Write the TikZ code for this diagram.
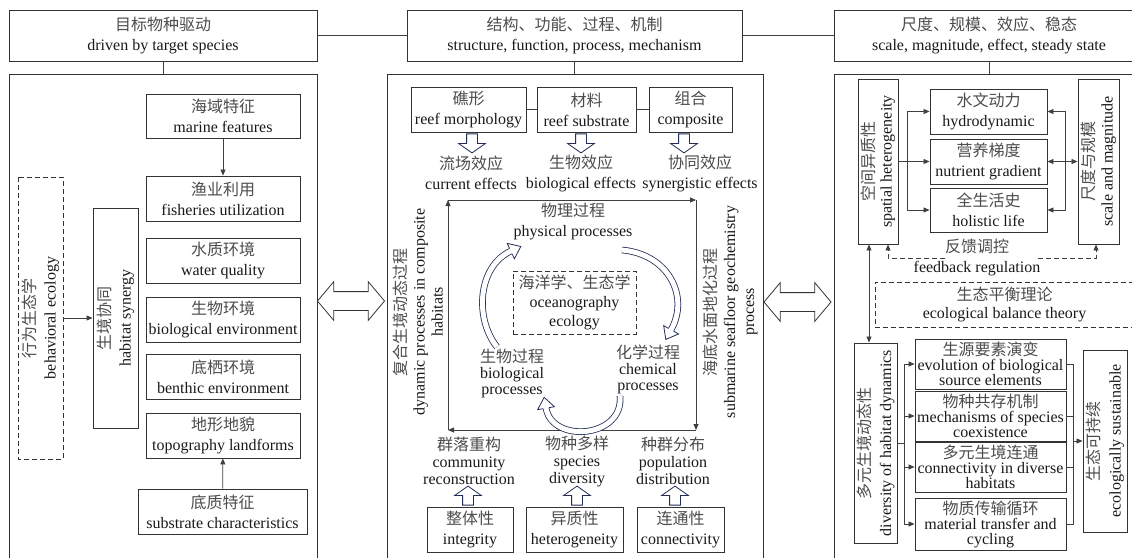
\documentclass[tikz,border=0pt]{standalone}
\usepackage{fontspec}
\setmainfont{Liberation Serif}
\newfontfamily\zhfont{Noto Sans CJK SC}
\usetikzlibrary{positioning, arrows.meta, shapes.arrows, decorations.markings}
\definecolor{navy}{RGB}{35,45,85}
\newcommand\zh[1]{{\zhfont\color{black!70}#1}}

\begin{document}
\begin{tikzpicture}[x=1pt, y=-1pt, font=\fontsize{16}{20}\selectfont, text=black!90,
    >={Triangle[length=6pt,width=5pt]},
    box/.style={draw=black!80, line width=0.9pt, align=center, inner sep=0pt},
    dbox/.style={box, dash pattern=on 5pt off 3pt},
    panel/.style={draw=black!80, line width=0.9pt, inner sep=0pt, anchor=north},
    link/.style={draw=black!75, line width=0.8pt},
    dlink/.style={link, dash pattern=on 5pt off 3pt},
    label/.style={align=center, inner sep=0pt},
    tightfont/.style={font=\fontsize{16}{16}\selectfont},
    threefont/.style={font=\fontsize{16}{15}\selectfont},
    blockarr/.style={single arrow, draw=navy, fill=white, line width=0.8pt, inner xsep=0pt, inner ysep=5pt,
        minimum height=19pt, single arrow head extend=8pt, single arrow tip angle=110},
    bigarr/.style={double arrow, draw=black!80, fill=white, line width=0.8pt, inner xsep=0pt, inner ysep=9pt,
        minimum height=67pt, double arrow head extend=10pt, double arrow tip angle=100},
    cyc/.style={navy, line width=0.8pt, double=white, double distance=5pt, postaction={decorate},
        decoration={markings, mark=at position 0.998 with {\draw[navy, fill=white, line width=0.8pt, solid] (0,2.9) -- (0,8.5) -- (11,0) -- (0,-8.5) -- (0,-2.9);}}}]

\useasboundingbox (0,0) rectangle (1132,557);
\clip (0,0) rectangle (1132,557);

% headers
\node[box, minimum width=308, minimum height=51] (hdL) at (163,35.5) {\zh{目标物种驱动}\\driven by target species};
\node[box, minimum width=335, minimum height=51] (hdM) at (574.5,35.5) {\zh{结构、功能、过程、机制}\\structure, function, process, mechanism};
\node[box, minimum width=310, minimum height=51] (hdR) at (989,35.5) {\zh{尺度、规模、效应、稳态}\\scale, magnitude, effect, steady state};
\draw[link] (hdL) -- (hdM);
\draw[link] (hdM) -- (hdR);

\node[panel, minimum width=308, minimum height=500] (pnL) at (163,74) {};
\node[panel, minimum width=376, minimum height=500] (pnM) at (575,74) {};
\node[panel, minimum width=310, minimum height=500] (pnR) at (989,74) {};
\draw[link] (hdL) -- (pnL);
\draw[link] (hdM) -- (pnM);
\draw[link] (hdR) -- (pnR);

\node[bigarr] (dblL) at (351,301) {};
\node[bigarr] (dblR) at (797.5,302) {};

% left panel
\node[box, minimum width=154, minimum height=44] (marine) at (223,116) {\zh{海域特征}\\marine features};
\node[box, minimum width=154, minimum height=45] (fishery) at (223,198.5) {\zh{渔业利用}\\fisheries utilization};
\node[box, minimum width=154, minimum height=45] (water) at (223,260.5) {\zh{水质环境}\\water quality};
\node[box, minimum width=154, minimum height=45] (bioenv) at (223,319.5) {\zh{生物环境}\\biological environment};
\node[box, minimum width=154, minimum height=45] (benthic) at (223,376.5) {\zh{底栖环境}\\benthic environment};
\node[box, minimum width=154, minimum height=45] (topo) at (223,435.5) {\zh{地形地貌}\\topography landforms};
\node[box, minimum width=169, minimum height=45] (substrate) at (222.5,511.5) {\zh{底质特征}\\substrate characteristics};
\draw[link,->] (marine) -- (fishery);
\draw[link,->] (substrate) -- (topo);

\node[box, rotate=90, minimum width=220, minimum height=45] (synergy) at (115.5,318) {\zh{生境协同}\\habitat synergy};
\node[dbox, rotate=90, minimum width=282, minimum height=45] (behav) at (40.5,318) {\zh{行为生态学}\\behavioral ecology};
\draw[link,->] (behav) -- (synergy);

% middle panel
\node[box, minimum width=115, minimum height=45] (reef) at (468.5,109.5) {\zh{礁形}\\reef morphology};
\node[box, minimum width=99, minimum height=45] (material) at (586.5,109.5) {\zh{材料}\\reef substrate};
\node[box, minimum width=83, minimum height=45] (combo) at (690.5,109.5) {\zh{组合}\\composite};
\draw[link] (reef) -- (material);
\draw[link] (material) -- (combo);

\node[blockarr, rotate=-90] (dn1) at (472,141.5) {};
\node[blockarr, rotate=-90] (dn2) at (581,141.5) {};
\node[blockarr, rotate=-90] (dn3) at (684,141.5) {};

\node[label] (curr) at (471,173) {\zh{流场效应}\\current effects};
\node[label] (bioeff) at (581,173) {\zh{生物效应}\\biological effects};
\node[label] (syneff) at (700,173) {\zh{协同效应}\\synergistic effects};

\coordinate (cTL) at (448,200);
\coordinate (cTR) at (696,200);
\coordinate (cBR) at (696,430);
\coordinate (cBL) at (448,430);
\draw[link,->] (cTL) -- (cTR);
\draw[link,->] (cTR) -- (cBR);
\draw[link,->] (cBR) -- (cBL);
\draw[link,->] (cBL) -- (cTL);

\node[label, rotate=90, font=\fontsize{16}{18}\selectfont] (dynlab) at (418,312) {\zh{复合生境动态过程}\\dynamic processes in composite\\habitats};
\node[label, rotate=90, font=\fontsize{16}{19}\selectfont] (geolab) at (730,312) {\zh{海底水面地化过程}\\submarine seafloor geochemistry\\process};

\node[label] (phys) at (573,222) {\zh{物理过程}\\physical processes};
\node[dbox, minimum width=123, minimum height=63, font=\fontsize{16}{19}\selectfont] (ocean) at (574.5,302.5) {\zh{海洋学、生态学}\\oceanography\\ecology};
\node[label, tightfont] (bioproc) at (512,373) {\zh{生物过程}\\biological\\processes};
\node[label, tightfont] (chemproc) at (648,369) {\zh{化学过程}\\chemical\\processes};

\coordinate (a1s) at (497,347);
\coordinate (a1e) at (511,251);
\coordinate (a2s) at (622,250);
\coordinate (a2e) at (671,330);
\coordinate (a3s) at (620,396);
\coordinate (a3e) at (546,408);
\draw[cyc] (a1s) .. controls (474,318) and (478,266) .. (a1e);
\draw[cyc] (a2s) .. controls (668,254) and (690,296) .. (a2e);
\draw[cyc] (a3s) .. controls (624,438) and (552,444) .. (a3e);

\node[label, font=\fontsize{16}{17}\selectfont] (commun) at (469,461) {\zh{群落重构}\\community\\reconstruction};
\node[label, font=\fontsize{16}{17}\selectfont] (speci) at (577,461) {\zh{物种多样}\\species\\diversity};
\node[label, font=\fontsize{16}{17}\selectfont] (popul) at (673,461) {\zh{种群分布}\\population\\distribution};

\node[blockarr, rotate=90] (up1) at (468,497.5) {};
\node[blockarr, rotate=90] (up2) at (577,497.5) {};
\node[blockarr, rotate=90] (up3) at (675,497.5) {};

\node[box, minimum width=86, minimum height=45] (integ) at (470,529.5) {\zh{整体性}\\integrity};
\node[box, minimum width=97, minimum height=45] (heter) at (574.5,529.5) {\zh{异质性}\\heterogeneity};
\node[box, minimum width=87, minimum height=45] (connect) at (680.5,529.5) {\zh{连通性}\\connectivity};

% right panel
\node[box, rotate=90, minimum width=165, minimum height=40, font=\fontsize{16}{17}\selectfont] (spatial) at (878,161.5) {\zh{空间异质性}\\spatial heterogeneity};
\node[box, minimum width=117, minimum height=45] (hydro) at (988.5,111.5) {\zh{水文动力}\\hydrodynamic};
\node[box, minimum width=117, minimum height=45] (nutri) at (988.5,161.5) {\zh{营养梯度}\\nutrient gradient};
\node[box, minimum width=117, minimum height=44] (life) at (988.5,210) {\zh{全生活史}\\holistic life};
\node[box, rotate=90, minimum width=165, minimum height=41, font=\fontsize{16}{18}\selectfont] (scale) at (1098.5,161.5) {\zh{尺度与规模}\\scale and magnitude};

\coordinate (forkA) at (907,161.5);
\coordinate (forkB) at (1065,161.5);
\draw[link] (spatial) -- (forkA);
\draw[link,->] (forkA) |- (hydro);
\draw[link,->] (forkA) -- (nutri);
\draw[link,->] (forkA) |- (life);
\draw[link,<->] (nutri) -- (scale);
\draw[link,->] (forkB) |- (hydro);
\draw[link,->] (forkB) |- (life);

\node[label] (feedback) at (977,257) {\zh{反馈调控}\\feedback regulation};
\coordinate (fbL) at (888,258);
\coordinate (fbL1) at (945,258);
\coordinate (fbR) at (1096,258);
\coordinate (fbR1) at (1038,258);
\draw[dlink,->] (fbL1) -- (fbL) -- (fbL |- spatial.west);
\draw[dlink,->] (fbR1) -- (fbR) -- (fbR |- scale.west);

\node[dbox, minimum width=259, minimum height=45, font=\fontsize{16}{18}\selectfont] (balance) at (1004.5,304.5) {\zh{生态平衡理论}\\ecological balance theory};

\node[box, rotate=90, minimum width=200, minimum height=43, font=\fontsize{16}{21}\selectfont] (div) at (875.5,443) {\zh{多元生境动态性}\\diversity of habitat dynamics};
\coordinate (vx) at (869,0);
\draw[link,<->] (vx |- spatial.west) -- (vx |- div.east);

\node[box, threefont, minimum width=151, minimum height=50] (evo) at (990.5,364) {\zh{生源要素演变}\\evolution of biological\\source elements};
\node[box, threefont, minimum width=151, minimum height=50] (coex) at (990.5,416) {\zh{物种共存机制}\\mechanisms of species\\coexistence};
\node[box, threefont, minimum width=151, minimum height=50] (conn2) at (990.5,467) {\zh{多元生境连通}\\connectivity in diverse\\habitats};
\node[box, threefont, minimum width=151, minimum height=52] (mat) at (990.5,524) {\zh{物质传输循环}\\material transfer and\\cycling};
\node[box, rotate=90, minimum width=182, minimum height=44, font=\fontsize{16}{21}\selectfont] (sust) at (1105,441) {\zh{生态可持续}\\ecologically sustainable};

\coordinate (forkC) at (904,443);
\coordinate (forkD) at (1073,441);
\draw[link] (div) -- (forkC);
\draw[link,->] (forkC) |- (evo);
\draw[link,->] (forkC) |- (coex);
\draw[link,->] (forkC) |- (conn2);
\draw[link,->] (forkC) |- (mat);
\draw[link] (evo) -| (forkD) |- (mat);
\draw[link] (coex) -- (coex -| forkD);
\draw[link] (conn2) -- (conn2 -| forkD);
\draw[link,->] (forkD) -- (sust);
\end{tikzpicture}
\end{document}
